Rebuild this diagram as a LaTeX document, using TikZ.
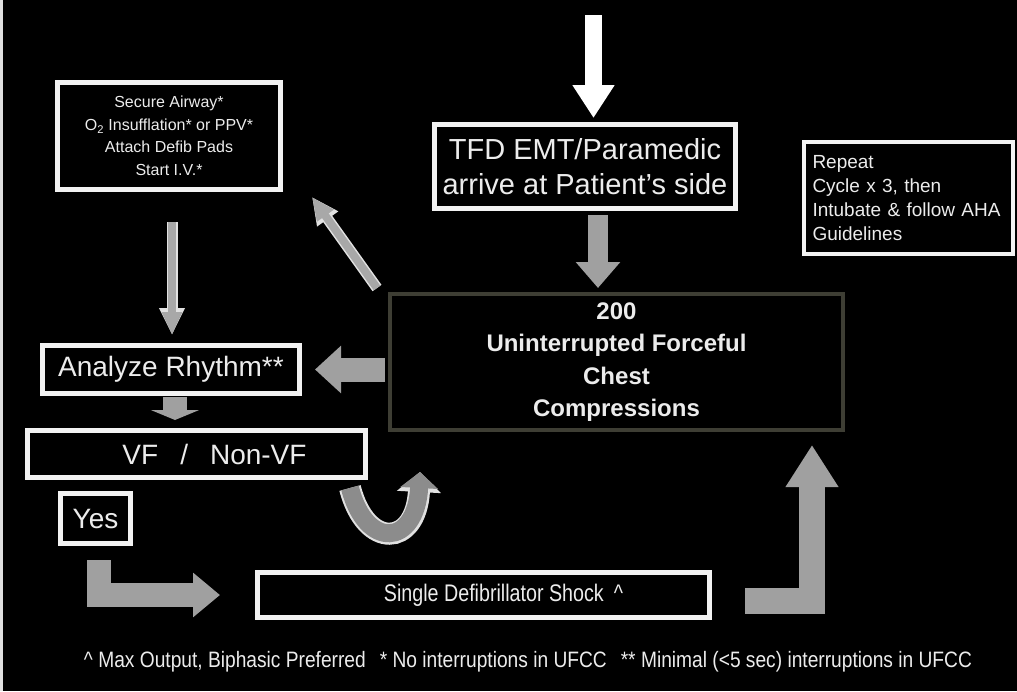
\documentclass[tikz,border=0pt]{standalone}
\usepackage{fontspec}
\setmainfont{Liberation Sans}
\newfontfamily\narrowfont[FakeStretch=0.82]{Liberation Sans}
\newfontfamily\notefont[FakeStretch=0.86]{Liberation Sans}
\usetikzlibrary{arrows.meta,calc}
\definecolor{boxwhite}{RGB}{242,242,242}
\definecolor{txt}{RGB}{236,236,236}
\definecolor{blockgray}{RGB}{160,160,160}
\definecolor{thingray}{RGB}{168,168,168}
\definecolor{ugray}{RGB}{140,140,140}
\definecolor{edgegray}{RGB}{225,225,225}
\definecolor{darkframe}{RGB}{62,62,52}
\begin{document}
\begin{tikzpicture}[x=1pt,y=-1pt,
  wbox/.style={draw=boxwhite, line width=5pt, fill=black, text=txt, inner sep=0pt, align=center},
  blockarrow/.style={draw=blockgray},
  thinarrow/.style={draw=thingray, line width=8pt, -{Triangle[width=19pt,length=23pt]},
     preaction={draw=edgegray, line width=11pt, -{Triangle[width=24pt,length=27pt]}}},
  uarrow/.style={draw=ugray, line width=18pt, -{Triangle[width=37pt,length=16pt]},
     preaction={draw=edgegray, line width=22pt, -{Triangle[width=43pt,length=20pt]}}}
]
\useasboundingbox (0,0) rectangle (1017,691);
\fill[black] (0,0) rectangle (1017,691);
\fill[edgegray] (0,0) rectangle (3,691);

% boxes
\node[wbox, minimum width=301pt, minimum height=84pt,
      font=\fontsize{29}{35}\selectfont] (tfd) at (585,166.5)
      {TFD EMT/Paramedic\\arrive at Patient’s side};
\node[wbox, line width=4pt, minimum width=209pt, minimum height=112pt,
      text width=192pt, align=left, font=\fontsize{19}{24}\selectfont] (rep) at (908.5,198)
      {Repeat\\Cycle x 3, then\\Intubate \& follow AHA\\Guidelines};
\node[wbox, minimum width=223pt, minimum height=107pt,
      font=\fontsize{16}{22.5}\selectfont] (secure) at (169,136)
      {Secure Airway*\\O\textsubscript{2} Insufflation* or PPV*\\Attach Defib Pads\\Start I.V.*};
\node[wbox, draw=darkframe, line width=4pt, minimum width=453pt, minimum height=136pt,
      font=\bfseries\fontsize{24}{32.5}\selectfont] (ucc) at (616.5,362)
      {200\\Uninterrupted Forceful\\Chest\\Compressions};
\node[wbox, minimum width=257pt, minimum height=48pt,
      font=\fontsize{28}{34}\selectfont] (analyze) at (171,369.5)
      {Analyze Rhythm**};
\node[wbox, minimum width=338pt, minimum height=47pt,
      font=\fontsize{28}{34}\selectfont] (vf) at (196.5,454)
      {\hspace*{36pt}VF\hspace{22pt}/\hspace{22pt}Non-VF};
\node[wbox, minimum width=70pt, minimum height=50pt,
      font=\fontsize{28}{34}\selectfont] (yes) at (95.5,518.5)
      {Yes};
\node[wbox, minimum width=452pt, minimum height=45pt,
      font=\narrowfont\fontsize{24}{28}\selectfont] (shock) at (483.5,595)
      {\hspace*{40pt}Single Defibrillator Shock\hspace{10pt}\textasciicircum};

% connectors
\coordinate (top) at (593.5,15);
\draw[draw=white, line width=17pt, -{Triangle[width=40pt,length=33pt]}, shorten >=4pt]
  (top) -- (top |- tfd.north);
\draw[blockarrow, line width=20pt, -{Triangle[width=43pt,length=26pt]}, shorten <=4pt, shorten >=4pt]
  ([shift={(13,0)}]tfd.south) -- ([shift={(13,0)}]tfd.south |- ucc.north);
\draw[blockarrow, line width=24pt, -{Triangle[width=46pt,length=26pt]}, shorten <=3pt, shorten >=13pt]
  (ucc.west |- analyze.east) -- (analyze.east);
\draw[blockarrow, line width=24pt, -{Triangle[width=48pt,length=10pt]}, shorten <=1pt, shorten >=8pt]
  ([shift={(4,0)}]analyze.south) -- ([shift={(4,0)}]analyze.south |- vf.north);
\draw[thinarrow, shorten >=8pt]
  ([shift={(3,30)}]secure.south) -- ([shift={(3,0)}]secure.south |- analyze.north);
\draw[thinarrow]
  ([shift={(-11,-4)}]ucc.north west) -- ([shift={(29,5)}]secure.south east);
\draw[uarrow]
  ([shift={(-18,8)}]vf.south east) .. controls ([shift={(-2,70)}]vf.south east)
  and ([shift={(28,115)}]ucc.south west) .. ([shift={(32,40)}]ucc.south west);
\draw[blockarrow, line width=24pt, -{Triangle[width=43pt,length=27pt]}, shorten >=35pt]
  ([shift={(3,14)}]yes.south) |- (shock.west);
\draw[blockarrow, line width=26pt, -{Triangle[width=50pt,length=42pt]}, shorten >=13pt]
  ([shift={(33,6)}]shock.east) -| ([shift={(100,0)}]shock.east |- ucc.south);

% footnote
\node[text=txt, inner sep=0pt, font=\notefont\fontsize{22.3}{26}\selectfont] (note) at (528,662)
  {\textasciicircum\ Max Output, Biphasic Preferred\hspace{14pt}* No interruptions in UFCC\hspace{14pt}** Minimal (<5 sec) interruptions in UFCC};
\end{tikzpicture}
\end{document}
